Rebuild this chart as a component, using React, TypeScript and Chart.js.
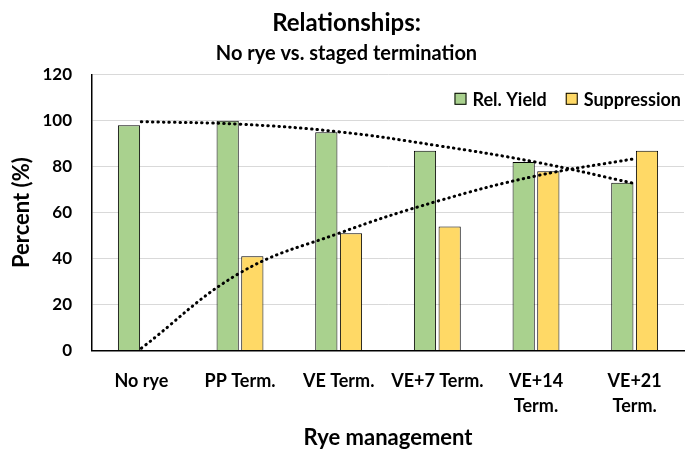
import React, { useEffect, useRef } from "react";
import { Chart, registerables } from "chart.js";

Chart.register(...registerables);

const categories: (string | string[])[] = [
  "No rye",
  "PP Term.",
  "VE Term.",
  "VE+7 Term.",
  ["VE+14", "Term."],
  ["VE+21", "Term."],
];
const relYield: (number | null)[] = [98, 100, 95, 87, 82, 73];
const suppression: (number | null)[] = [null, 41, 51, 54, 78, 87];
const yieldTrend: number[] = [99.6, 98.5, 95.2, 89.2, 82, 72.7];
const suppressionTrend: number[] = [1, 33.8, 51, 65, 76, 83.5];
const yTicks = { min: 0, max: 120, step: 20 };
const legendItems = ["Rel. Yield", "Suppression"];

const FONT = "Lato, 'Open Sans', sans-serif";

const insideLegend = {
  id: "insideLegend",
  afterDatasetsDraw(chart: any) {
    const { ctx, chartArea } = chart;
    const items = chart.data.datasets.filter((d: any) => legendItems.includes(d.label));
    ctx.save();
    ctx.font = `bold 18px ${FONT}`;
    const box = 12;
    const gapBoxText = 6;
    const gapItems = 19;
    const widths = items.map((d: any) => box + gapBoxText + ctx.measureText(d.label).width);
    const total = widths.reduce((a: number, b: number) => a + b, 0) + gapItems * (items.length - 1);
    let x = chartArea.right - 3 - total;
    const yc = chartArea.top + 24;
    ctx.textBaseline = "middle";
    ctx.textAlign = "left";
    items.forEach((d: any, i: number) => {
      ctx.fillStyle = d.backgroundColor;
      ctx.fillRect(x, yc - box / 2, box, box);
      ctx.strokeStyle = "#000";
      ctx.lineWidth = 1;
      ctx.strokeRect(x + 0.5, yc - box / 2 + 0.5, box - 1, box - 1);
      ctx.fillStyle = "#000";
      ctx.fillText(d.label, x + box + gapBoxText, yc + 1);
      x += widths[i] + gapItems;
    });
    ctx.restore();
  },
};

export default function App() {
  const ref = useRef<HTMLCanvasElement | null>(null);
  useEffect(() => {
    if (!ref.current) return;
    const dotted = {
      type: "line" as const,
      borderColor: "#000",
      borderWidth: 3,
      borderDash: [0.5, 5],
      borderCapStyle: "round" as const,
      pointRadius: 0,
      fill: false,
      tension: 0.4,
      order: 0,
    };
    const chart = new Chart(ref.current, {
      type: "bar",
      data: {
        labels: categories,
        datasets: [
          {
            label: legendItems[0],
            data: relYield,
            backgroundColor: "#A9D18E",
            borderColor: "#000",
            borderWidth: 1,
            categoryPercentage: 0.5,
            barPercentage: 0.9,
            order: 1,
          },
          {
            label: legendItems[1],
            data: suppression,
            backgroundColor: "#FFD966",
            borderColor: "#000",
            borderWidth: 1,
            categoryPercentage: 0.5,
            barPercentage: 0.9,
            order: 1,
          },
          { ...dotted, label: "yieldTrend", data: yieldTrend } as any,
          { ...dotted, label: "suppressionTrend", data: suppressionTrend } as any,
        ],
      },
      plugins: [insideLegend],
      options: {
        animation: false,
        responsive: true,
        maintainAspectRatio: false,
        layout: { padding: { left: 9, right: 16, top: 5, bottom: 7 } },
        plugins: {
          title: {
            display: true,
            text: "Relationships:",
            color: "#000",
            font: { family: FONT, size: 24, weight: "bold" },
            padding: { top: 4, bottom: 4 },
          },
          subtitle: {
            display: true,
            text: "No rye vs. staged termination",
            color: "#000",
            font: { family: FONT, size: 20, weight: "bold" },
            padding: { top: 0, bottom: 9 },
          },
          legend: { display: false },
          tooltip: { enabled: false },
        },
        scales: {
          x: {
            grid: { display: false },
            border: { display: true, color: "#000", width: 1.5 },
            ticks: {
              color: "#000",
              font: { family: FONT, size: 18, weight: "bold", lineHeight: 1.39 },
              padding: 10.5,
              maxRotation: 0,
              autoSkip: false,
            },
            title: {
              display: true,
              text: "Rye management",
              color: "#000",
              font: { family: FONT, size: 22, weight: "bold" },
              padding: { top: -5, bottom: 0 },
            },
          },
          y: {
            min: yTicks.min,
            max: yTicks.max,
            grid: { color: "#D9D9D9", drawTicks: false },
            border: { display: true, color: "#000", width: 1.5 },
            afterFit: (scale: any) => {
              scale.width = 83;
            },
            ticks: {
              stepSize: yTicks.step,
              color: "#000",
              font: { family: FONT, size: 17, weight: "bold" },
              padding: 20,
            },
            title: {
              display: true,
              text: "Percent (%)",
              color: "#000",
              font: { family: FONT, size: 22, weight: "bold" },
              padding: { top: 0, bottom: 0 },
            },
          },
        },
      },
    });
    return () => chart.destroy();
  }, []);
  return (
    <div style={{ position: "absolute", left: 0, top: 0, width: 700, height: 458, background: "#fff" }}>
      <canvas ref={ref} />
    </div>
  );
}
